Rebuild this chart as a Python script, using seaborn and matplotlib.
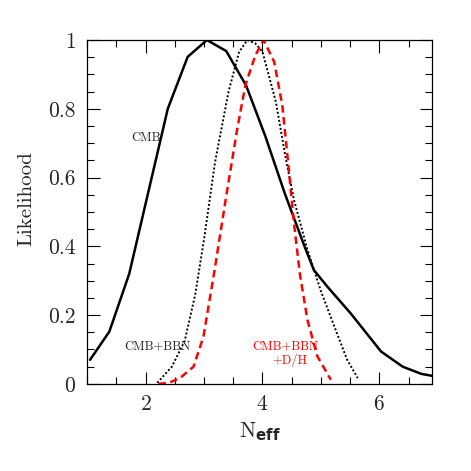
import numpy as np
import pandas as pd
import seaborn as sns
import matplotlib.pyplot as plt
from matplotlib.ticker import MultipleLocator

# CMB only (solid black)
cmb_n = [1.05, 1.38, 1.72, 2.05, 2.38, 2.72, 3.05, 3.38, 3.72, 4.05, 4.38, 4.72,
         4.88, 5.11, 5.51, 6.03, 6.40, 6.72, 6.95]
cmb_l = [0.07, 0.152, 0.32, 0.56, 0.80, 0.951, 1.0, 0.968, 0.868, 0.72, 0.555, 0.40,
         0.331, 0.283, 0.205, 0.094, 0.050, 0.029, 0.022]

# CMB+BBN (dotted black)
bbn_n = [2.20, 2.45, 2.67, 2.85, 3.00, 3.19, 3.42, 3.60, 3.74, 3.88, 4.00, 4.23,
         4.40, 4.54, 4.77, 5.00, 5.23, 5.45, 5.63]
bbn_l = [0.003, 0.05, 0.125, 0.26, 0.42, 0.646, 0.85, 0.965, 1.0, 0.99, 0.966, 0.82,
         0.655, 0.535, 0.39, 0.27, 0.167, 0.07, 0.017]

# CMB+BBN+D/H (dashed red)
dh_n = [2.22, 2.40, 2.59, 2.82, 2.99, 3.18, 3.37, 3.57, 3.71, 3.88, 4.02, 4.20,
        4.34, 4.43, 4.54, 4.64, 4.77, 4.94, 5.17]
dh_l = [0.0, 0.003, 0.017, 0.05, 0.137, 0.33, 0.535, 0.743, 0.87, 0.956, 1.0, 0.937,
        0.81, 0.66, 0.467, 0.32, 0.186, 0.08, 0.012]

yticks = [0, 0.2, 0.4, 0.6, 0.8, 1.0]
ytick_labels = ["0", "0.2", "0.4", "0.6", "0.8", "1"]

sns.set_style("ticks")
plt.rcParams['font.family'] = ['cmr10', 'DejaVu Serif']
plt.rcParams['mathtext.fontset'] = 'dejavusans'
plt.rcParams['axes.formatter.use_mathtext'] = True

fig = plt.figure(figsize=(4.71, 4.71), dpi=100)
ax = fig.add_axes([0.185, 0.185, 0.732, 0.730])

sns.lineplot(x=cmb_n, y=cmb_l, ax=ax, color="black", lw=1.8, sort=False)
sns.lineplot(x=bbn_n, y=bbn_l, ax=ax, color="black", lw=1.4, sort=False,
             linestyle=(0, (1, 1.1)))
sns.lineplot(x=dh_n, y=dh_l, ax=ax, color="red", lw=1.8, sort=False,
             linestyle=(0, (3, 1.8)))

ax.set_xlim(1, 6.9)
ax.set_ylim(0, 1)
ax.xaxis.set_major_locator(MultipleLocator(2))
ax.xaxis.set_minor_locator(MultipleLocator(0.5))
ax.yaxis.set_minor_locator(MultipleLocator(0.05))
ax.set_yticks(yticks)
ax.set_yticklabels(ytick_labels)
ax.tick_params(which="both", direction="in", top=True, right=True,
               labelsize=15.5, width=0.8, color="black")
ax.tick_params(which="major", length=9)
ax.tick_params(axis="x", which="major", pad=8)
ax.tick_params(axis="y", which="major", pad=8.5)
ax.tick_params(which="minor", length=5)
for s in ax.spines.values():
    s.set_color("black")
    s.set_linewidth(0.9)

ax.set_xlabel(r"N$_{\mathbf{eff}}$", fontsize=15.5, labelpad=4)
ax.set_ylabel("Likelihood", fontsize=15)
ax.yaxis.set_label_coords(-0.15, 0.54)

ax.text(2.0, 0.714, "CMB", fontsize=9, ha="center", va="center")
ax.text(2.2, 0.11, "CMB+BBN", fontsize=9, ha="center", va="center")
ax.text(4.39, 0.11, "CMB+BBN", fontsize=9, ha="center", va="center", color="red")
ax.text(4.47, 0.068, "+D/H", fontsize=9, ha="center", va="center", color="red")

fig.savefig("out.png", dpi=100)
